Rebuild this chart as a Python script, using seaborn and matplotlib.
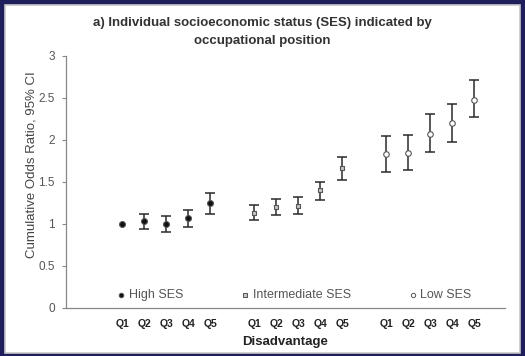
import numpy as np
import pandas as pd
import matplotlib
matplotlib.use("Agg")
import matplotlib.pyplot as plt
from matplotlib.patches import Rectangle
import seaborn as sns

# Cumulative odds ratios with 95% CI by neighbourhood disadvantage quintile
quintiles = ["Q1", "Q2", "Q3", "Q4", "Q5"]
groups = ["High SES", "Intermediate SES", "Low SES"]

high_or = [1.00, 1.03, 1.00, 1.07, 1.25]
high_lo = [1.00, 0.94, 0.91, 0.97, 1.12]
high_hi = [1.00, 1.12, 1.09, 1.17, 1.37]

inter_or = [1.13, 1.20, 1.22, 1.40, 1.67]
inter_lo = [1.05, 1.11, 1.12, 1.29, 1.52]
inter_hi = [1.23, 1.30, 1.32, 1.50, 1.80]

low_or = [1.83, 1.85, 2.07, 2.20, 2.48]
low_lo = [1.62, 1.64, 1.86, 1.98, 2.27]
low_hi = [2.05, 2.06, 2.31, 2.43, 2.71]

y_ticks = [0, 0.5, 1, 1.5, 2, 2.5, 3]
y_tick_labels = ["0", "0.5", "1", "1.5", "2", "2.5", "3"]

# one empty slot between the three SES blocks on the category axis
rows = []
for g_i, (g, ors, los, his) in enumerate(zip(
        groups,
        [high_or, inter_or, low_or],
        [high_lo, inter_lo, low_lo],
        [high_hi, inter_hi, low_hi])):
    for q_i, q in enumerate(quintiles):
        rows.append(dict(group=g, quintile=q, pos=1 + g_i * 6 + q_i,
                         OR=ors[q_i], lo=los[q_i], hi=his[q_i]))
df = pd.DataFrame(rows)

sns.set_theme(style="white")
plt.rcParams["font.family"] = ["Liberation Sans", "DejaVu Sans"]

navy = "#1f1e5c"
fig = plt.figure(figsize=(5.25, 3.56), dpi=100, facecolor=navy)

# white slide panel behind the chart
fig.patches.append(Rectangle((5 / 525, 3 / 356), 515 / 525, 348 / 356,
                             transform=fig.transFigure, facecolor="white",
                             edgecolor="#c8c8c8", linewidth=1.2, zorder=-5))

ax = fig.add_axes([66 / 525, 48 / 356, 439 / 525, 252 / 356])
ax.set_zorder(2)
ax.set_facecolor("white")

# confidence intervals (reference category Q1/High SES has none)
ci = df[df["hi"] > df["lo"]]
ax.errorbar(ci["pos"], ci["OR"],
            yerr=[ci["OR"] - ci["lo"], ci["hi"] - ci["OR"]],
            fmt="none", ecolor="#2a2a2a", elinewidth=1.1, capsize=3.5,
            capthick=1.1, zorder=2)

palette = {"High SES": "#111111", "Intermediate SES": "#c4c4c4", "Low SES": "white"}
markers = {"High SES": "o", "Intermediate SES": "s", "Low SES": "o"}
sizes = {"High SES": 18, "Intermediate SES": 8, "Low SES": 16}
for g in groups:
    sub = df[df["group"] == g]
    sns.scatterplot(data=sub, x="pos", y="OR", ax=ax, color=palette[g],
                    marker=markers[g], s=sizes[g], edgecolor="#555555",
                    linewidth=0.8, zorder=3, legend=False)

# in-plot key along the bottom
key_y = 0.15
key_x = [0.95, 6.6, 14.2]
for g, kx in zip(groups, key_x):
    ax.scatter([kx], [key_y], color=palette[g], marker=markers[g],
               s=sizes[g] * 0.6, edgecolor="#555555", linewidth=0.7, zorder=3)
    ax.text(kx + 0.35, key_y, g, fontsize=9, color="#555555",
            va="center", ha="left")

ax.set_xlim(-1.55, 18.4)
ax.set_ylim(0, 3)
ax.set_xticks(df["pos"])
ax.set_xticklabels(df["quintile"], fontsize=7.5, color="#222222", fontweight="bold")
ax.set_yticks(y_ticks)
ax.set_yticklabels(y_tick_labels, fontsize=8.5, color="#555555")
ax.tick_params(axis="x", length=0, pad=8)
ax.tick_params(axis="y", length=3, width=0.8, color="#888888", pad=5, left=True)

for side in ["top", "right"]:
    ax.spines[side].set_visible(False)
for side in ["left", "bottom"]:
    ax.spines[side].set_color("#888888")
    ax.spines[side].set_linewidth(0.9)

ax.set_xlabel("Disadvantage", fontsize=9.5, fontweight="bold", color="#222222", labelpad=5)
ax.set_ylabel("Cumulative Odds Ratio, 95% CI", fontsize=9.5, color="#444444")
ax.yaxis.set_label_coords(-0.066, 0.57)

fig.text(262 / 525, 1 - 32 / 356,
         "a) Individual socioeconomic status (SES) indicated by\noccupational position",
         ha="center", va="center", fontsize=9.5, fontweight="bold", color="#333333",
         linespacing=1.75)

fig.savefig("out.png", dpi=100, facecolor=navy)
